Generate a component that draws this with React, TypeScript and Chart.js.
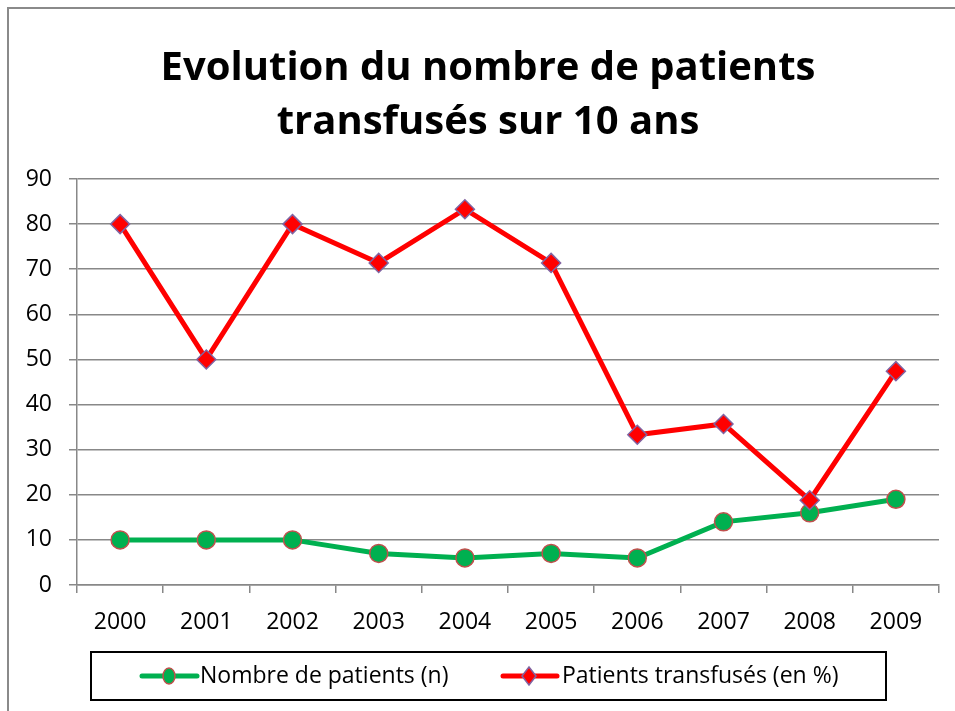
import React, { useEffect, useRef } from "react";
import { Chart, registerables } from "chart.js";

Chart.register(...registerables);

const years = ["2000", "2001", "2002", "2003", "2004", "2005", "2006", "2007", "2008", "2009"];
const nombrePatients = [10, 10, 10, 7, 6, 7, 6, 14, 16, 19];
const patientsTransfuses = [80, 50, 80, 71.4, 83.3, 71.4, 33.3, 35.7, 18.8, 47.4];
const titleLines = ["Evolution du nombre de patients", "transfusés sur 10 ans"];
const seriesNames = ["Nombre de patients (n)", "Patients transfusés (en %)"];

const FONT = "'Open Sans', 'Noto Sans', sans-serif";
const GREEN = "#00B050";
const RED = "#FF0000";
const GRID = "#888888";

const decorPlugin = {
  id: "decor",
  beforeDraw(chart: any) {
    const ctx = chart.ctx;
    ctx.save();
    ctx.fillStyle = "#ffffff";
    ctx.fillRect(0, 0, chart.width, chart.height);
    // outer frame
    ctx.strokeStyle = "#8a8a8a";
    ctx.lineWidth = 2;
    ctx.beginPath();
    ctx.moveTo(8, chart.height + 2);
    ctx.lineTo(8, 8);
    ctx.lineTo(chart.width + 2, 8);
    ctx.stroke();
    ctx.restore();
  },
  afterDraw(chart: any) {
    const ctx = chart.ctx;
    ctx.save();
    // title
    ctx.fillStyle = "#000";
    ctx.font = `bold 40px ${FONT}`;
    ctx.textAlign = "center";
    ctx.textBaseline = "alphabetic";
    ctx.fillText(titleLines[0], 488, 80);
    ctx.fillText(titleLines[1], 488, 134);

    // legend box
    ctx.strokeStyle = "#000";
    ctx.lineWidth = 2;
    ctx.strokeRect(91, 652, 795, 48);
    const cy = 676;
    // item 1
    ctx.strokeStyle = GREEN;
    ctx.lineWidth = 5;
    ctx.lineCap = "round";
    ctx.beginPath();
    ctx.moveTo(142, cy);
    ctx.lineTo(197, cy);
    ctx.stroke();
    ctx.beginPath();
    ctx.ellipse(169, cy, 6, 8, 0, 0, Math.PI * 2);
    ctx.fillStyle = GREEN;
    ctx.fill();
    ctx.lineWidth = 1.5;
    ctx.strokeStyle = "#C0504D";
    ctx.stroke();
    // item 2
    ctx.strokeStyle = RED;
    ctx.lineWidth = 5;
    ctx.beginPath();
    ctx.moveTo(503, cy);
    ctx.lineTo(557, cy);
    ctx.stroke();
    ctx.beginPath();
    ctx.moveTo(529, cy - 9);
    ctx.lineTo(536, cy);
    ctx.lineTo(529, cy + 9);
    ctx.lineTo(522, cy);
    ctx.closePath();
    ctx.fillStyle = RED;
    ctx.fill();
    ctx.lineWidth = 1.5;
    ctx.strokeStyle = "#8064A2";
    ctx.stroke();
    // texts
    ctx.fillStyle = "#000";
    ctx.font = `23px ${FONT}`;
    ctx.textAlign = "left";
    ctx.textBaseline = "middle";
    ctx.fillText(seriesNames[0], 200, cy);
    ctx.fillText(seriesNames[1], 562, cy);
    ctx.restore();
  },
};

export default function App() {
  const ref = useRef<HTMLCanvasElement>(null);
  useEffect(() => {
    document.body.style.margin = "0";
    document.documentElement.style.overflow = "hidden";
    const canvas = ref.current!;
    const chart = new Chart(canvas, {
      type: "line",
      data: {
        labels: years,
        datasets: [
          {
            label: seriesNames[0],
            data: nombrePatients,
            borderColor: GREEN,
            backgroundColor: GREEN,
            borderWidth: 5,
            tension: 0,
            pointStyle: "circle",
            pointRadius: 9,
            pointHoverRadius: 9,
            pointBackgroundColor: GREEN,
            pointBorderColor: "#C0504D",
            pointBorderWidth: 1.5,
            order: 1,
          },
          {
            label: seriesNames[1],
            data: patientsTransfuses,
            borderColor: RED,
            backgroundColor: RED,
            borderWidth: 5,
            tension: 0,
            pointStyle: "rectRot",
            pointRadius: 9.5,
            pointHoverRadius: 9.5,
            pointBackgroundColor: RED,
            pointBorderColor: "#8064A2",
            pointBorderWidth: 1.5,
            order: 0,
          },
        ],
      },
      options: {
        responsive: false,
        animation: false,
        layout: { padding: { top: 179, left: 0, right: 16, bottom: 0 } },
        plugins: {
          legend: { display: false },
          title: { display: false },
          tooltip: { enabled: false },
        },
        scales: {
          x: {
            type: "category",
            offset: true,
            afterFit: (s: any) => {
              s.height = 126;
            },
            grid: {
              offset: true,
              drawOnChartArea: false,
              drawTicks: true,
              tickLength: 8,
              color: GRID,
              lineWidth: 1.5,
            },
            border: { color: GRID, width: 1.5 },
            ticks: {
              color: "#000",
              font: { family: FONT, size: 23 },
              padding: 16,
              maxRotation: 0,
            },
          },
          y: {
            min: 0,
            max: 90,
            afterFit: (s: any) => {
              s.width = 77;
            },
            grid: {
              color: GRID,
              lineWidth: 1.5,
              tickLength: 8,
            },
            border: { color: GRID, width: 1.5 },
            ticks: {
              stepSize: 10,
              color: "#000",
              font: { family: FONT, size: 23 },
              padding: 17,
            },
          },
        },
      },
      plugins: [decorPlugin],
    });
    return () => chart.destroy();
  }, []);
  return <canvas ref={ref} width={955} height={711} style={{ display: "block" }} />;
}
